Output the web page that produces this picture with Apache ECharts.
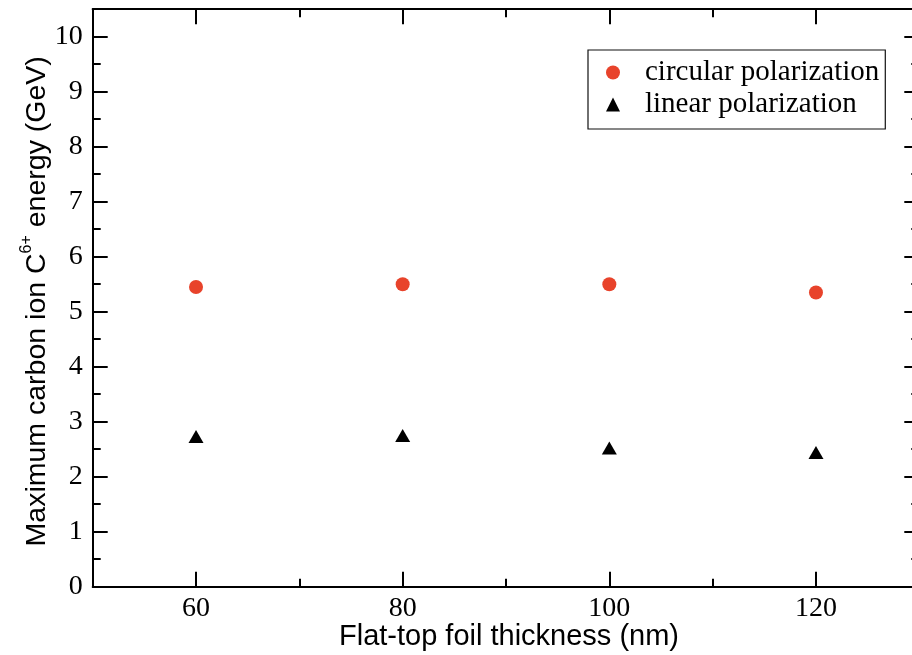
<!DOCTYPE html>
<html>
<head>
<meta charset="utf-8">
<script src="https://cdn.jsdelivr.net/npm/echarts@6/dist/echarts.min.js"></script>
<style>html,body{margin:0;padding:0;background:#fff;}#c{width:912px;height:655px;}</style>
</head>
<body>
<div id="c"></div>
<script>
const thickness = [60, 80, 100, 120];
const circularEnergy = [5.45, 5.50, 5.50, 5.35];
const linearEnergy = [2.73, 2.75, 2.52, 2.44];
const xMajorTicks = [60, 80, 100, 120];
const xMinorTicks = [70, 90, 110];
const yMajorTicks = [0, 1, 2, 3, 4, 5, 6, 7, 8, 9, 10];
const yMinorTicks = [0.5, 1.5, 2.5, 3.5, 4.5, 5.5, 6.5, 7.5, 8.5, 9.5];
const seriesNames = ['circular polarization', 'linear polarization'];

const chart = echarts.init(document.getElementById('c'), null, {renderer: 'canvas'});
const serif = 'Liberation Serif';
const sans = 'Liberation Sans';
const lineW = 2;

function xAxisDef(pos, ticks, len, withLabel, withLine) {
  return {
    type: 'value', gridIndex: 0, position: pos, min: 50, max: 130,
    axisLine: {show: withLine, onZero: false, lineStyle: {color: '#000', width: lineW}},
    axisTick: {show: true, inside: true, length: len, customValues: ticks, lineStyle: {color: '#000', width: lineW}},
    axisLabel: withLabel ? {show: true, customValues: ticks, margin: 8, color: '#000', fontFamily: serif, fontSize: 28} : {show: false},
    splitLine: {show: false}
  };
}
function yAxisDef(pos, ticks, len, withLabel, withLine) {
  return {
    type: 'value', gridIndex: 0, position: pos, min: 0, max: 10.5,
    axisLine: {show: withLine, onZero: false, lineStyle: {color: '#000', width: lineW}},
    axisTick: {show: true, inside: true, length: len, customValues: ticks, lineStyle: {color: '#000', width: lineW}},
    axisLabel: withLabel ? {show: true, customValues: ticks, margin: 10, color: '#000', fontFamily: serif, fontSize: 28} : {show: false},
    splitLine: {show: false}
  };
}

const xMain = xAxisDef('bottom', xMajorTicks, 15, true, true);
xMain.name = 'Flat-top foil thickness (nm)';
xMain.nameLocation = 'middle';
xMain.nameGap = 36;
xMain.nameMoveOverlap = false;
xMain.nameTextStyle = {color: '#000', fontFamily: sans, fontSize: 29, verticalAlign: 'top', padding: [0, 0, 0, 6]};

const yMain = yAxisDef('left', yMajorTicks, 15, true, true);
yMain.name = '{sp| }{b|Maximum carbon ion C}{s|6+}{b| energy (GeV)}{e| }';
yMain.nameLocation = 'middle';
yMain.nameGap = 41.5;
yMain.nameMoveOverlap = false;
yMain.nameRotate = 90;
yMain.nameTextStyle = {
  color: '#000', fontFamily: sans, fontSize: 28,
  rich: {
    sp: {fontSize: 1, lineHeight: 33},
    e: {fontSize: 1, width: 7, lineHeight: 1},
    b: {fontFamily: sans, fontSize: 28.5, color: '#000', verticalAlign: 'bottom', lineHeight: 30},
    s: {fontFamily: sans, fontSize: 16, color: '#000', verticalAlign: 'top', lineHeight: 16}
  }
};

const option = {
  backgroundColor: '#fff',
  animation: false,
  grid: {left: 92.7, right: -7.3, top: 9.2, bottom: 68.3, show: false, containLabel: false, outerBoundsMode: 'none'},
  xAxis: [
    xMain,
    xAxisDef('bottom', xMinorTicks, 8, false, false),
    xAxisDef('top', xMajorTicks, 15, false, true),
    xAxisDef('top', xMinorTicks, 8, false, false)
  ],
  yAxis: [
    yMain,
    yAxisDef('left', yMinorTicks, 8, false, false),
    yAxisDef('right', yMajorTicks, 15, false, true),
    yAxisDef('right', yMinorTicks, 8, false, false)
  ],
  legend: {
    orient: 'vertical', left: 588, top: 50,
    padding: [8, 6, 10, 18], itemGap: 3,
    borderColor: '#111', borderWidth: 1.2, backgroundColor: '#fff',
    itemWidth: 14, itemHeight: 14,
    textStyle: {color: '#000', fontFamily: serif, fontSize: 29, padding: [0, 0, 0, 20]},
    data: seriesNames
  },
  series: [
    {
      name: seriesNames[0], type: 'scatter', xAxisIndex: 0, yAxisIndex: 0,
      symbol: 'circle', symbolSize: 14,
      itemStyle: {color: '#e8432b', opacity: 1},
      data: thickness.map((x, i) => [x, circularEnergy[i]])
    },
    {
      name: seriesNames[1], type: 'scatter', xAxisIndex: 0, yAxisIndex: 0,
      symbol: 'triangle', symbolSize: [15, 13],
      itemStyle: {color: '#000', opacity: 1},
      data: thickness.map((x, i) => [x, linearEnergy[i]])
    }
  ]
};
chart.setOption(option);
</script>
</body>
</html>
